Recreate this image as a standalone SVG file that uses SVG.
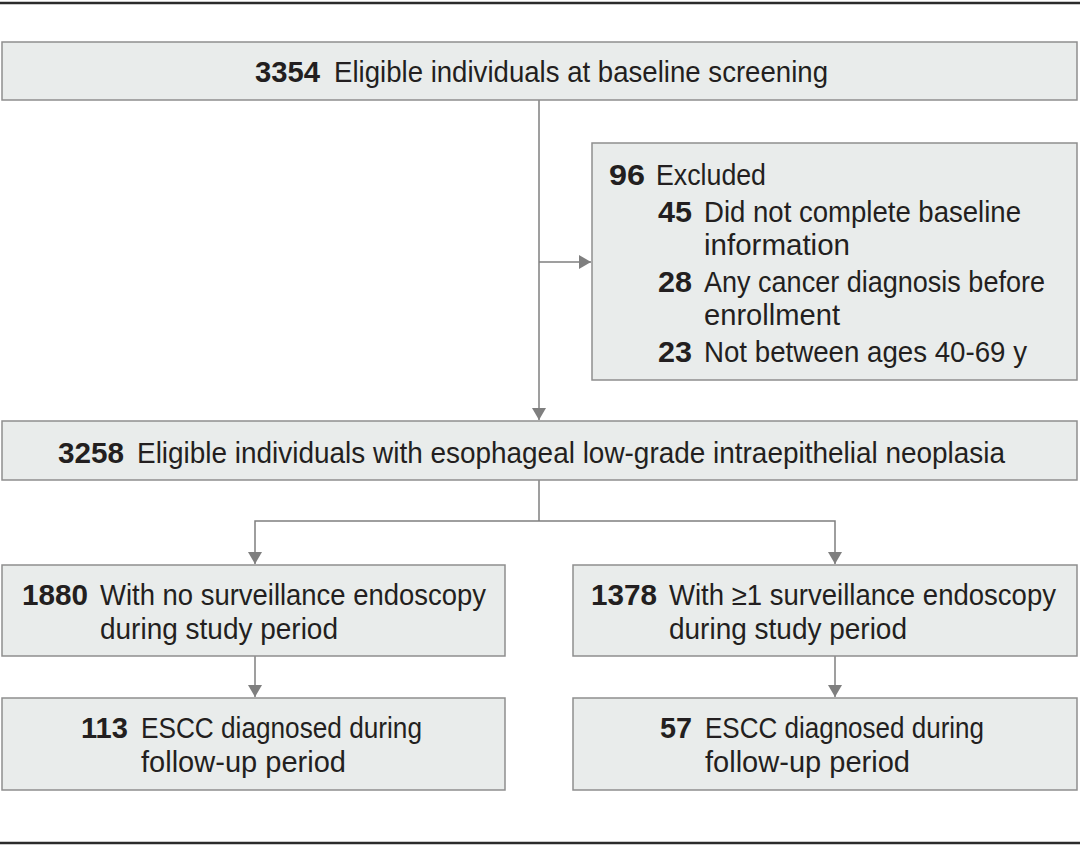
<svg xmlns="http://www.w3.org/2000/svg" width="1080" height="847" viewBox="0 0 1080 847">
<defs>
<style>
.box{fill:#e9eceb;stroke:#8e8e8e;stroke-width:1.5}
.rule{stroke:#2b2b2b;stroke-width:2.5}
.conn{fill:none;stroke:#7f7f7f;stroke-width:1.5}
text{font-family:"Liberation Sans",Arial,sans-serif;font-size:29px;fill:#231f20}
.n{font-weight:bold}
</style>
<marker id="ah" viewBox="0 0 12 14" refX="12" refY="7" markerWidth="12" markerHeight="14" markerUnits="userSpaceOnUse" orient="auto">
<path d="M0,0 L12,7 L0,14 z" fill="#7f7f7f"/>
</marker>
</defs>
<rect width="1080" height="847" fill="#ffffff"/>
<line class="rule" x1="0" y1="3" x2="1080" y2="3"/>
<line class="rule" x1="0" y1="843" x2="1080" y2="843"/>
<g id="connectors">
<path class="conn" d="M539,100 V420" marker-end="url(#ah)"/>
<path class="conn" d="M539,262 H591" marker-end="url(#ah)"/>
<path class="conn" d="M539,480 V521"/>
<path class="conn" d="M539,521 H255 V564" marker-end="url(#ah)"/>
<path class="conn" d="M539,521 H835 V564" marker-end="url(#ah)"/>
<path class="conn" d="M255,656 V697" marker-end="url(#ah)"/>
<path class="conn" d="M835,656 V697" marker-end="url(#ah)"/>
</g>
<g id="n3354">
<rect class="box" x="2" y="42" width="1075" height="58"/>
<text class="n" x="255" y="82" textLength="65" lengthAdjust="spacingAndGlyphs">3354</text>
<text x="334" y="82" textLength="494" lengthAdjust="spacingAndGlyphs">Eligible individuals at baseline screening</text>
</g>
<g id="excluded">
<rect class="box" x="592" y="143" width="485" height="237"/>
<text class="n" x="609" y="185" textLength="36" lengthAdjust="spacingAndGlyphs">96</text>
<text x="656" y="185" textLength="110" lengthAdjust="spacingAndGlyphs">Excluded</text>
<text class="n" x="658" y="222" textLength="34" lengthAdjust="spacingAndGlyphs">45</text>
<text x="704" y="222" textLength="317" lengthAdjust="spacingAndGlyphs">Did not complete baseline</text>
<text x="704" y="255" textLength="146" lengthAdjust="spacingAndGlyphs">information</text>
<text class="n" x="658" y="292" textLength="34" lengthAdjust="spacingAndGlyphs">28</text>
<text x="704" y="292" textLength="341" lengthAdjust="spacingAndGlyphs">Any cancer diagnosis before</text>
<text x="704" y="325" textLength="136" lengthAdjust="spacingAndGlyphs">enrollment</text>
<text class="n" x="658" y="362" textLength="34" lengthAdjust="spacingAndGlyphs">23</text>
<text x="704" y="362" textLength="323" lengthAdjust="spacingAndGlyphs">Not between ages 40-69 y</text>
</g>
<g id="n3258">
<rect class="box" x="2" y="421" width="1075" height="59"/>
<text class="n" x="58" y="463" textLength="66" lengthAdjust="spacingAndGlyphs">3258</text>
<text x="137" y="463" textLength="868" lengthAdjust="spacingAndGlyphs">Eligible individuals with esophageal low-grade intraepithelial neoplasia</text>
</g>
<g id="n1880">
<rect class="box" x="2" y="565" width="503" height="91"/>
<text class="n" x="22" y="605" textLength="66" lengthAdjust="spacingAndGlyphs">1880</text>
<text x="100" y="605" textLength="386" lengthAdjust="spacingAndGlyphs">With no surveillance endoscopy</text>
<text x="100" y="639" textLength="238" lengthAdjust="spacingAndGlyphs">during study period</text>
</g>
<g id="n1378">
<rect class="box" x="573" y="565" width="504" height="91"/>
<text class="n" x="591" y="605" textLength="66" lengthAdjust="spacingAndGlyphs">1378</text>
<text x="669" y="605" textLength="387" lengthAdjust="spacingAndGlyphs">With ≥1 surveillance endoscopy</text>
<text x="669" y="639" textLength="238" lengthAdjust="spacingAndGlyphs">during study period</text>
</g>
<g id="n113">
<rect class="box" x="2" y="698" width="503" height="92"/>
<text class="n" x="81" y="738" textLength="47" lengthAdjust="spacingAndGlyphs">113</text>
<text x="141" y="738" textLength="281" lengthAdjust="spacingAndGlyphs">ESCC diagnosed during</text>
<text x="141" y="772" textLength="205" lengthAdjust="spacingAndGlyphs">follow-up period</text>
</g>
<g id="n57">
<rect class="box" x="573" y="698" width="504" height="92"/>
<text class="n" x="660" y="738" textLength="32" lengthAdjust="spacingAndGlyphs">57</text>
<text x="705" y="738" textLength="279" lengthAdjust="spacingAndGlyphs">ESCC diagnosed during</text>
<text x="705" y="772" textLength="205" lengthAdjust="spacingAndGlyphs">follow-up period</text>
</g>
</svg>
